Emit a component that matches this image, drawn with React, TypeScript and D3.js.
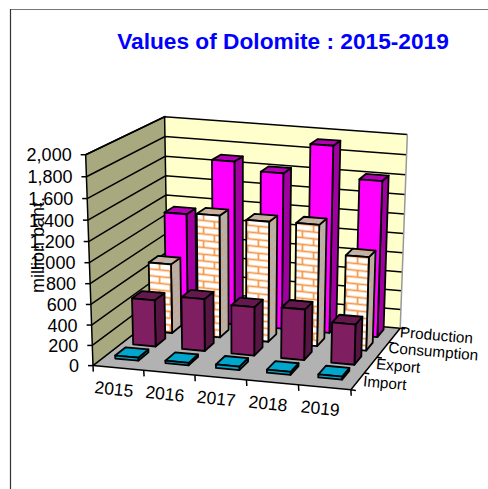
import React from "react";
import * as d3 from "d3";

const title = "Values of Dolomite : 2015-2019";
const axisTitle = "million baht.";
const years = ["2015", "2016", "2017", "2018", "2019"];
const seriesNames = ["Import", "Export", "Consumption", "Production"];
const importValues = [30, 25, 35, 30, 30];
const exportValues = [470, 525, 490, 510, 405];
const consumptionValues = [710, 1240, 1220, 1230, 950];
const productionValues = [1110, 1680, 1600, 1910, 1600];
const allValues = [importValues, exportValues, consumptionValues, productionValues];
const yTicks = d3.range(0, 2001, 200);

type P3 = [number, number, number];
const anchors: [P3, [number, number]][] = [
  [[0, 0, 0], [92, 362]],
  [[1, 0, 0], [352, 391]],
  [[0, 0, 1], [168, 312]],
  [[1, 0, 1], [400, 326]],
  [[0, 1, 0], [85, 152]],
  [[1, 1, 0], [357, 181]],
  [[0, 1, 1], [166, 118]],
  [[1, 1, 1], [406, 131]],
];

function fitCamera(): number[] {
  const rows: number[][] = [];
  for (const [[x, y, z], [u, v]] of anchors) {
    rows.push([x, y, z, 1, 0, 0, 0, 0, -u * x, -u * y, -u * z, u]);
    rows.push([0, 0, 0, 0, x, y, z, 1, -v * x, -v * y, -v * z, v]);
  }
  const n = 11;
  const M = d3.range(n).map((i) =>
    d3.range(n + 1).map((j) => d3.sum(rows, (r) => r[i] * r[j === n ? 11 : j]))
  );
  for (let c = 0; c < n; c++) {
    let best = c;
    for (let r = c + 1; r < n; r++) if (Math.abs(M[r][c]) > Math.abs(M[best][c])) best = r;
    [M[c], M[best]] = [M[best], M[c]];
    for (let r = 0; r < n; r++) {
      if (r === c) continue;
      const f = M[r][c] / M[c][c];
      for (let k = c; k <= n; k++) M[r][k] -= f * M[c][k];
    }
  }
  return d3.range(n).map((i) => M[i][n] / M[i][i]);
}
const cam = fitCamera();
const project = (x: number, y: number, z: number): [number, number] => {
  const w = cam[8] * x + cam[9] * y + cam[10] * z + 1;
  return [
    (cam[0] * x + cam[1] * y + cam[2] * z + cam[3]) / w,
    (cam[4] * x + cam[5] * y + cam[6] * z + cam[7]) / w,
  ];
};
const poly = (pts: [number, number][]) =>
  pts.map((p) => `${p[0].toFixed(2)},${p[1].toFixed(2)}`).join(" ");

const xBand = d3.scaleBand<string>().domain(years).range([-0.007, 0.993]).paddingInner(0.54).paddingOuter(0.27);
const xCat = d3.scaleBand<string>().domain(years).range([0, 1]);
const zBand = d3.scaleBand<string>().domain(seriesNames).range([0.08, 1]).paddingInner(0.42).paddingOuter(0.21);
const zCat = d3.scaleBand<string>().domain(seriesNames).range([0, 1]);
const yScale = d3.scaleLinear().domain([0, 2000]).range([0, 1]);

const FONT = "'Liberation Sans', Arial, sans-serif";
const faces = [
  { front: "#FF00FF", side: "#A000A0", top: "#B400B4" },
  { front: "url(#brickFront)", side: "url(#brickSide)", top: "url(#brickTop)" },
  { front: "#7F1F62", side: "#561543", top: "#64184E" },
  { front: "#00A6CC", side: "#00708C", top: "#00A6CC" },
];

function Bar({ xi, si }: { xi: number; si: number }) {
  const x0 = xBand(years[xi])!;
  const x1 = x0 + xBand.bandwidth();
  const z0 = zBand(seriesNames[si])!;
  const z1 = z0 + zBand.bandwidth();
  const y = yScale(allValues[si][xi]);
  const f = faces[3 - si];
  const s = { stroke: "#000", strokeWidth: 1.8, strokeLinejoin: "round" as const };
  return (
    <g>
      <polygon points={poly([project(x1, 0, z0), project(x1, 0, z1), project(x1, y, z1), project(x1, y, z0)])} fill={f.side} {...s} />
      <polygon points={poly([project(x0, y, z0), project(x1, y, z0), project(x1, y, z1), project(x0, y, z1)])} fill={f.top} {...s} />
      <polygon points={poly([project(x0, 0, z0), project(x1, 0, z0), project(x1, y, z0), project(x0, y, z0)])} fill={f.front} {...s} />
    </g>
  );
}

function BrickPattern({ id, bg, transform, w, h, m }: { id: string; bg: string; transform: string; w: number; h: number; m: number }) {
  return (
    <pattern id={id} patternUnits="userSpaceOnUse" width={w} height={h} patternTransform={transform}>
      <rect width={w} height={h} fill={bg} />
      <g stroke="#F79646" strokeWidth={m} fill="none">
        <line x1={0} y1={h / 4} x2={w} y2={h / 4} />
        <line x1={0} y1={(3 * h) / 4} x2={w} y2={(3 * h) / 4} />
        <line x1={w / 4} y1={h / 4} x2={w / 4} y2={(3 * h) / 4} />
        <line x1={(3 * w) / 4} y1={0} x2={(3 * w) / 4} y2={h / 4} />
        <line x1={(3 * w) / 4} y1={(3 * h) / 4} x2={(3 * w) / 4} y2={h} />
      </g>
    </pattern>
  );
}

export default function App() {
  const L = 1.5;
  const wallStroke = { stroke: "#000", strokeWidth: L };
  return (
    <svg width={488} height={489} style={{ position: "absolute", left: 0, top: 0 }} fontFamily={FONT}>
      <defs>
        <BrickPattern id="brickFront" bg="#FFFFFF" transform="skewY(6)" w={22} h={13.5} m={1.7} />
        <BrickPattern id="brickSide" bg="#B2B2B2" transform="skewY(-38) scale(0.4,1)" w={22} h={13.5} m={0.9} />
        <BrickPattern id="brickTop" bg="#B8B8B8" transform="skewX(-45) scale(1,0.35)" w={22} h={13.5} m={1.2} />
      </defs>
      <rect width={488} height={489} fill="#fff" />
      <line x1={10} y1={9.5} x2={488} y2={9.5} stroke="#777" strokeWidth={1.2} />
      <line x1={10.5} y1={9} x2={10.5} y2={489} stroke="#333" strokeWidth={1.2} />

      <text x={283} y={49} textAnchor="middle" fontSize={22.7} fontWeight="bold" fill="#0000FF">{title}</text>

      {/* floor and walls */}
      <polygon points={poly([project(0, 0, 0), project(1, 0, 0), project(1, 0, 1), project(0, 0, 1)])} fill="#B2B2B2" />
      <polygon points={poly([project(0, 0, 1), project(1, 0, 1), project(1, 1, 1), project(0, 1, 1)])} fill="#FFFFCC" />
      <polygon points={poly([project(0, 0, 0), project(0, 0, 1), project(0, 1, 1), project(0, 1, 0)])} fill="#A9A97F" />
      {yTicks.map((t) => {
        const y = yScale(t);
        return (
          <g key={t}>
            <polyline points={poly([project(0, y, 0), project(0, y, 1), project(1, y, 1)])} fill="none" {...wallStroke} />
            <line x1={project(0, y, 0)[0] - 5} y1={project(0, y, 0)[1]} x2={project(0, y, 0)[0]} y2={project(0, y, 0)[1]} {...wallStroke} />
            <text x={project(0, y, 0)[0] - 14} y={project(0, y, 0)[1] + 6.5} textAnchor="end" fontSize={18} fill="#000">
              {d3.format(",")(t)}
            </text>
          </g>
        );
      })}
      <line x1={project(1, 0, 1)[0]} y1={project(1, 0, 1)[1]} x2={project(1, 1, 1)[0]} y2={project(1, 1, 1)[1]} stroke="#999" strokeWidth={1.5} />
      <polyline points={poly([project(0, 0, 1), project(0, 1, 1), project(0, 1, 0), project(0, 0, 0)])} fill="none" {...wallStroke} />

      {/* front and side axes */}
      <polyline points={poly([project(0, 0, 0), project(1, 0, 0), project(1, 0, 1)])} fill="none" {...wallStroke} />
      {[0, 1, 2, 3, 4, 5].map((i) => {
        const p = project(i / 5, 0, 0);
        return <line key={i} x1={p[0]} y1={p[1]} x2={p[0] + 0.3} y2={p[1] + 6} {...wallStroke} />;
      })}
      {[0, 1, 2, 3, 4].map((i) => {
        const p = project(1, 0, i / 4);
        return <line key={i} x1={p[0]} y1={p[1]} x2={p[0] + 5} y2={p[1] + 0.6} {...wallStroke} />;
      })}

      {/* bars back to front */}
      {[3, 2, 1, 0].map((si) =>
        [4, 3, 2, 1, 0].map((xi) => <Bar key={`${si}-${xi}`} xi={xi} si={si} />)
      )}

      {years.map((yr) => {
        const p = project(xCat(yr)! + xCat.bandwidth() / 2, 0, 0);
        return (
          <text key={yr} transform={`translate(${p[0] - 5},${p[1] + 27}) rotate(6)`} textAnchor="middle" fontSize={17.5} fill="#000">
            {yr}
          </text>
        );
      })}
      {seriesNames.map((name, i) => {
        const p = project(1, 0, zCat(name)! + zCat.bandwidth() / 2);
        return (
          <text key={name} transform={`translate(${p[0] + 5},${p[1] + 5 - i}) rotate(5)`} fontSize={15.3} fill="#000">
            {name}
          </text>
        );
      })}
      <text transform="translate(44,245) rotate(-90)" textAnchor="middle" fontSize={18} fill="#000">{axisTitle}</text>
    </svg>
  );
}
